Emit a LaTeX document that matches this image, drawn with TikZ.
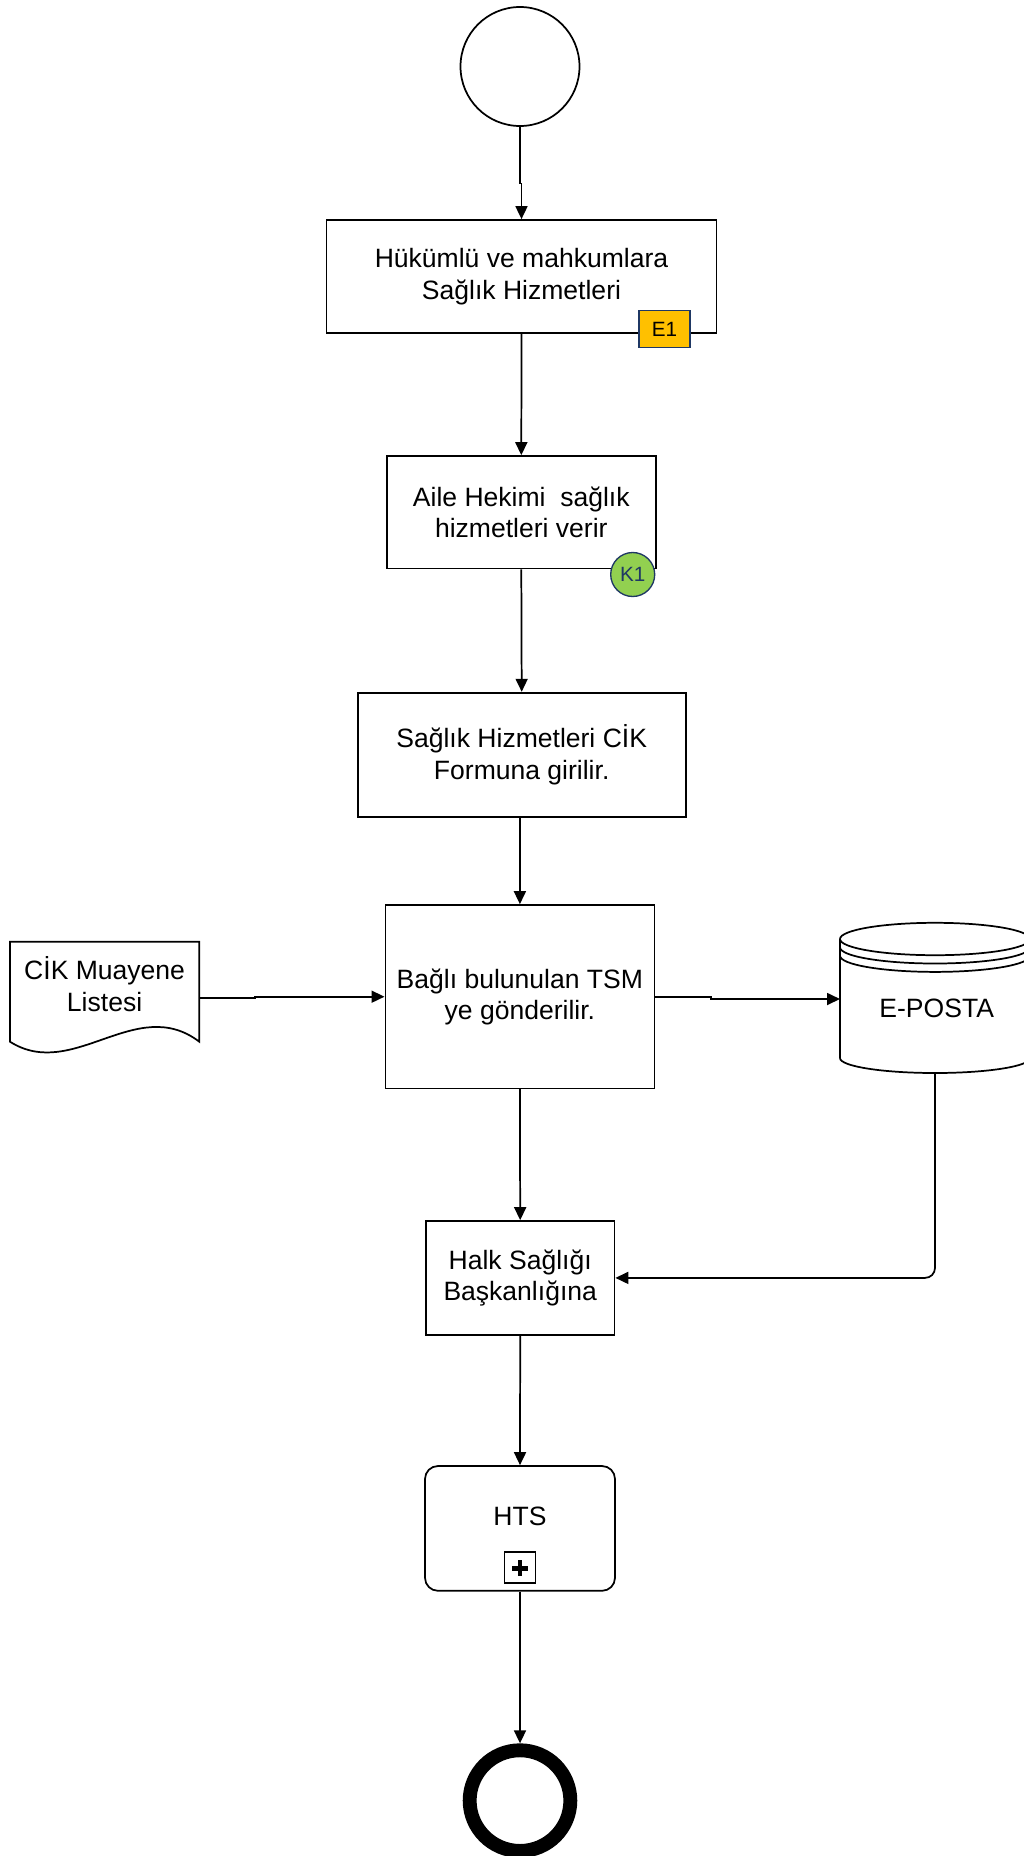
\documentclass[tikz,border=0pt]{standalone}
\usepackage{fontspec}
\setmainfont{Liberation Sans}
\usetikzlibrary{arrows.meta,calc}
\definecolor{eyellow}{HTML}{FFC000}
\definecolor{navyb}{HTML}{1F3864}
\definecolor{kgreen}{HTML}{92D050}
\newcommand\mainfs{\fontsize{19.9pt}{23.6pt}\selectfont}
\newcommand\badgefs{\fontsize{15.5pt}{17pt}\selectfont}
\tikzset{
  ln/.style={line width=1.3pt},
  base/.style={draw, ln, inner sep=0pt, outer sep=auto, align=center, font=\mainfs},
  taskbox/.style={base, rectangle},
  arr/.style={ln, -{Triangle[length=9.75pt,width=9pt]}},
  badge/.style={draw=navyb, line width=1pt, inner sep=0pt, font=\badgefs},
  txt/.style={inner sep=0pt, align=center, font=\mainfs}
}
\begin{document}
\begin{tikzpicture}[x=0.75pt,y=-0.75pt]
\useasboundingbox (0,0) rectangle (1024,1856);
\fill[white] (0,0) rectangle (1024,1856);

% start event
\node[base, circle, minimum size=89.25pt] (start) at (520,66.5) {};

% tasks
\node[taskbox, minimum width=292.5pt, minimum height=84.75pt] (b1) at (521.5,276.5) {Hükümlü ve mahkumlara\\Sağlık Hizmetleri};
\node[badge, fill=eyellow, minimum width=38.25pt, minimum height=27.5pt] (e1) at (664.5,329) {E1};

\node[taskbox, minimum width=202pt, minimum height=84.4pt] (b2) at (521.3,512.3) {Aile Hekimi\ \ sağlık\\hizmetleri verir};
\node[badge, circle, fill=kgreen, text=navyb, minimum size=33pt] (k1) at (632.7,574.5) {K1};

\node[taskbox, minimum width=246pt, minimum height=93.2pt] (b3) at (521.7,754.8) {Sağlık Hizmetleri CİK\\Formuna girilir.};

\node[taskbox, minimum width=201.8pt, minimum height=137.5pt] (b4) at (519.9,996.7) {Bağlı bulunulan TSM\\ye gönderilir.};

\node[taskbox, minimum width=141.5pt, minimum height=85.3pt] (b5) at (520.2,1277.9) {Halk Sağlığı\\Başkanlığına};

% collapsed subprocess
\node[taskbox, rounded corners=9.75pt, minimum width=142.5pt, minimum height=93.6pt] (hts) at (520,1528.4) {};
\node[txt] (htstext) at (520,1516.3) {HTS};
\node[draw, ln, inner sep=0pt, minimum size=23.25pt] (plus) at (520,1567.8) {};
\draw[line width=3.4pt] ($(plus.center)+(-8,0.5)$) -- ($(plus.center)+(8,0.5)$);
\draw[line width=3.4pt] ($(plus.center)+(0,-7.6)$) -- ($(plus.center)+(0,8.6)$);

% end event
\node[circle, draw, line width=10.4pt, inner sep=0pt, outer sep=5.2pt, minimum size=75.5pt] (end) at (520,1800.6) {};

% document
\draw[ln, fill=white] (10,1041.7) -- (10,941.7) -- (199.3,941.7) -- (199.3,1041.7)
  .. controls (136.3,993.7) and (73,1081.7) .. (10,1041.7) -- cycle;
\node[txt] (doc) at (104.6,984) {CİK Muayene\\Listesi};
\coordinate (docR) at (199.3,998.3);

% database cylinder
\draw[ln, fill=white] (840,939) -- (840,1058)
  arc[start angle=180, end angle=360, x radius=71.25pt, y radius=11.25pt]
  -- (1030,939);
\draw[ln, fill=white] (935,939) ellipse[x radius=71.25pt, y radius=12.15pt];
\draw[ln] (840,947.3) arc[start angle=180, end angle=360, x radius=71.25pt, y radius=12.15pt];
\draw[ln] (840,955.7) arc[start angle=180, end angle=360, x radius=71.25pt, y radius=12.15pt];
\node[txt] (cyl) at (936.7,1008.3) {E-POSTA};
\coordinate (cylW) at (840,999);
\coordinate (cylS) at (935,1073);

% connectors
\draw[arr] (start.south) -- ++(0,56.5) -| (b1.north);
\draw[arr] (b1.south) -- (b2.north);
\draw[arr] (b2.south) -- (b3.north);
\draw[arr] (b4.north |- b3.south) -- (b4.north);
\draw[arr] (docR) -- ++(55.7,0) |- (b4.west);
\draw[arr] (b4.east) -- ++(55.6,0) |- (cylW);
\draw[arr] (b4.south) -- (b5.north);
\draw[arr, rounded corners=7.5pt] (cylS) |- (b5.east);
\draw[arr] (b5.south) -- (hts.north);
\draw[arr] (hts.south) -- (end.north);
\end{tikzpicture}
\end{document}
